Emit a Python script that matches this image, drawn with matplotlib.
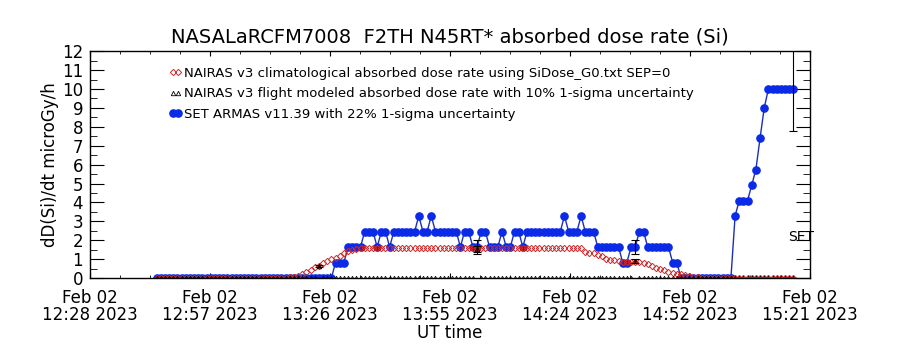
import numpy as np
import matplotlib
matplotlib.use("Agg")
import matplotlib.pyplot as plt
from matplotlib.ticker import FixedLocator, MultipleLocator

# time axis: minutes after 12:28 UT, one sample per minute
minutes = np.arange(16, 170)

# SET ARMAS v11.39 (microGy/h)
armas_dose = [
    0, 0, 0, 0, 0, 0, 0, 0, 0, 0, 0, 0, 0, 0, 0,
    0, 0, 0, 0, 0, 0, 0, 0, 0, 0, 0, 0, 0, 0, 0,
    0, 0, 0, 0, 0, 0, 0, 0, 0, 0, 0, 0, 0,
    0.82, 0.82, 0.82, 1.64, 1.64, 1.64, 1.64,
    2.46, 2.46, 2.46, 1.64, 2.46, 2.46, 1.64,
    2.46, 2.46, 2.46, 2.46, 2.46, 2.46, 3.28, 2.46, 2.46, 3.28,
    2.46, 2.46, 2.46, 2.46, 2.46, 2.46, 1.64, 2.46, 2.46,
    1.64, 1.64, 2.46, 2.46, 1.64, 1.64, 1.64, 2.46, 1.64, 1.64,
    2.46, 2.46, 1.64,
    2.46, 2.46, 2.46, 2.46, 2.46, 2.46, 2.46, 2.46, 2.46, 3.28,
    2.46, 2.46, 2.46, 3.28, 2.46, 2.46, 2.46,
    1.64, 1.64, 1.64, 1.64, 1.64, 1.64, 0.82, 0.82,
    1.64, 1.64, 2.46, 2.46, 1.64, 1.64, 1.64, 1.64, 1.64, 1.64,
    0.82, 0.82,
    0, 0, 0, 0, 0, 0, 0, 0, 0, 0, 0, 0, 0,
    3.28, 4.1, 4.1, 4.1, 4.92, 5.74, 7.4, 9.0,
    10.0, 10.0, 10.0, 10.0, 10.0, 10.0, 10.0,
]

# NAIRAS v3 climatological (microGy/h)
nairas_clim = [
    0.02, 0.02, 0.02, 0.02, 0.02, 0.02, 0.02, 0.02, 0.02, 0.02, 0.02,
    0.02, 0.02, 0.02, 0.02, 0.02, 0.02, 0.02, 0.02, 0.02, 0.02, 0.02,
    0.02, 0.02, 0.02, 0.02, 0.02, 0.02, 0.02, 0.02, 0.02, 0.02,
    0.03, 0.06, 0.11, 0.22, 0.33, 0.45, 0.56, 0.66, 0.77, 0.88,
    0.98, 1.08, 1.19, 1.30, 1.42, 1.50, 1.54, 1.57,
    1.57, 1.57, 1.57, 1.57, 1.57, 1.57, 1.57, 1.57, 1.57, 1.57,
    1.57, 1.57, 1.57, 1.57, 1.57, 1.57, 1.57, 1.57, 1.57, 1.57,
    1.57, 1.57, 1.57, 1.57, 1.57, 1.57, 1.57, 1.57, 1.57, 1.57,
    1.57, 1.57, 1.57, 1.57, 1.57, 1.57, 1.57, 1.57, 1.57, 1.57,
    1.57, 1.57, 1.57, 1.57, 1.57, 1.57, 1.57, 1.57, 1.57, 1.57,
    1.57, 1.57, 1.57,
    1.40, 1.34, 1.30, 1.20, 1.14, 1.02, 0.96, 0.94, 0.90,
    0.86, 0.86, 0.86, 0.86, 0.86,
    0.80, 0.72, 0.64, 0.55, 0.46, 0.40, 0.33, 0.28, 0.23, 0.19,
    0.15, 0.10, 0.06, 0.04,
    0.02, 0.02, 0.02, 0.02, 0.02, 0.02, 0.02, 0.02, 0.02, 0.02, 0.02,
    0.02, 0.02, 0.02, 0.02, 0.02, 0.02, 0.02, 0.02, 0.02, 0.02, 0.02, 0.02,
]

# NAIRAS v3 flight modeled: waypoints with values, zero elsewhere
waypoint_minutes = [55, 93, 131, 169]
waypoint_dose = [0.62, 1.55, 0.90, 0.02]

tick_minutes = [0, 28.83, 57.67, 86.5, 115.33, 144.17, 173]
tick_labels = [
    "Feb 02\n12:28 2023", "Feb 02\n12:57 2023", "Feb 02\n13:26 2023",
    "Feb 02\n13:55 2023", "Feb 02\n14:24 2023", "Feb 02\n14:52 2023",
    "Feb 02\n15:21 2023",
]


def plot_dose():
  plt.rcParams['font.family'] = ['DejaVu Sans']
  fig = plt.figure(figsize=(9, 3.5), dpi=100)
  ax = fig.add_axes([0.1, 0.2057, 0.8, 0.648])

  flight = np.zeros(len(minutes))
  for m, v in zip(waypoint_minutes, waypoint_dose):
    flight[list(minutes).index(m)] = v

  ax.plot(minutes, nairas_clim, ls='none', marker='D', ms=3.2, mfc='none',
          mec='#d02828', mew=0.7, zorder=4,
          label='NAIRAS v3 climatological absorbed dose rate using SiDose_G0.txt SEP=0')
  ax.plot(minutes, flight, ls='none', marker='^', ms=3.2, mfc='none',
          mec='black', mew=0.6, zorder=4.5,
          label='NAIRAS v3 flight modeled absorbed dose rate with 10% 1-sigma uncertainty')
  ax.plot(minutes, armas_dose, color='#1a30b8', lw=1.0, marker='o', ms=5.2,
          mfc='#0a2ae8', mec='#0a2ae8', zorder=3,
          label='SET ARMAS v11.39 with 22% 1-sigma uncertainty')

  # error bars at the waypoints
  wp_armas = [armas_dose[list(minutes).index(m)] for m in waypoint_minutes]
  ax.errorbar(waypoint_minutes, waypoint_dose,
              yerr=0.1 * np.array(waypoint_dose), fmt='none', ecolor='black',
              elinewidth=0.8, capsize=3, capthick=0.8, zorder=5)
  ax.errorbar(waypoint_minutes, wp_armas, yerr=0.22 * np.array(wp_armas),
              fmt='none', ecolor='black', elinewidth=0.8, capsize=3,
              capthick=0.8, zorder=5)

  ax.text(167.8, 2.17, 'SET', fontsize=10, va='center', ha='left')

  ax.set_xlim(0, 173)
  ax.set_ylim(0, 12)
  ax.xaxis.set_major_locator(FixedLocator(tick_minutes))
  ax.xaxis.set_minor_locator(FixedLocator(np.linspace(0, 173, 25)))
  ax.set_xticklabels(tick_labels, fontsize=12, linespacing=0.95)
  ax.yaxis.set_major_locator(MultipleLocator(1))
  ax.yaxis.set_minor_locator(MultipleLocator(0.5))
  ax.tick_params(axis='y', which='major', direction='in', length=10,
                 right=True, labelsize=12, pad=5)
  ax.tick_params(axis='y', which='minor', direction='in', length=5,
                 right=True)
  ax.tick_params(axis='x', which='major', direction='in', length=3.5,
                 top=True, pad=8)
  ax.tick_params(axis='x', which='minor', direction='in', length=2,
                 top=True)
  for s in ax.spines.values():
    s.set_linewidth(1.0)
    s.set_zorder(6)

  ax.set_xlabel('UT time', fontsize=12, labelpad=0)
  ax.set_ylabel('dD(Si)/dt microGy/h', fontsize=12, labelpad=2)
  ax.set_title('NASALaRCFM7008  F2TH N45RT* absorbed dose rate (Si)',
               fontsize=14, pad=6)

  ax.legend(loc='upper left', bbox_to_anchor=(0.11, 0.93), frameon=False,
            fontsize=9.5, numpoints=2, handlelength=1.0, handletextpad=0.1,
            labelspacing=0.55, borderaxespad=0, borderpad=0)

  fig.savefig('out.png', dpi=100)


if __name__ == "__main__":
  plot_dose()
